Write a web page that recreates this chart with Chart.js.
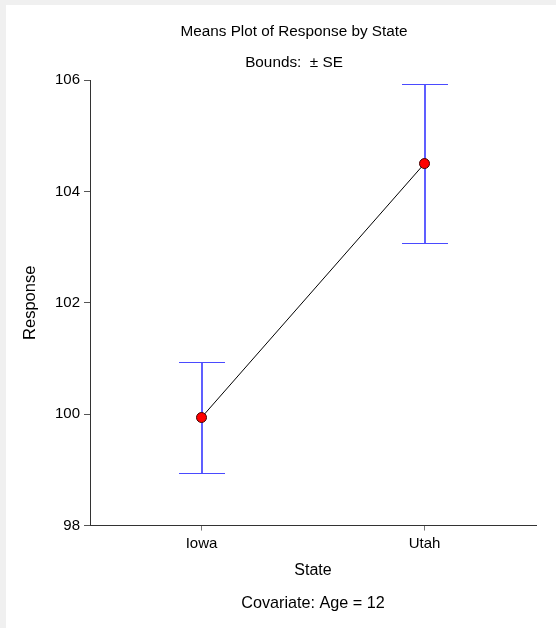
<!DOCTYPE html>
<html>
<head>
<meta charset="utf-8">
<script src="https://cdn.jsdelivr.net/npm/chart.js@4"></script>
<style>
  html, body { margin: 0; padding: 0; background: #f0f0f0; width: 556px; height: 628px; overflow: hidden; }
  #wrap { position: absolute; left: 6px; top: 5px; width: 550px; height: 623px; background: #ffffff; }
  canvas { display: block; }
</style>
</head>
<body>
<div id="wrap"><canvas id="c" width="550" height="623"></canvas></div>
<script>
// ---- data ----
const states = ['Iowa', 'Utah'];
const means = [99.94, 104.50];
const se = [0.99, 1.42];
const yTicks = [98, 100, 102, 104, 106];
const titleText = 'Means Plot of Response by State';
const subtitleText = 'Bounds:  \u00B1 SE';
const xTitle = 'State';
const yTitle = 'Response';
const footText = 'Covariate: Age = 12';

const FONT = '"Liberation Sans", Arial, sans-serif';

const errorBars = {
  id: 'errorBars',
  beforeDatasetsDraw(chart) {
    const ctx = chart.ctx;
    const xs = chart.scales.x, ys = chart.scales.y;
    ctx.save();
    ctx.lineWidth = 1;
    for (let i = 0; i < states.length; i++) {
      const xc = Math.round(xs.getPixelForValue(i));
      const yTop = Math.round(ys.getPixelForValue(means[i] + se[i])) + 0.5;
      const yBot = Math.round(ys.getPixelForValue(means[i] - se[i])) + 0.5;
      const hw = 23;
      // stem
      ctx.strokeStyle = '#1a1aff';
      ctx.lineWidth = 1.4;
      ctx.beginPath();
      ctx.moveTo(xc, yTop); ctx.lineTo(xc, yBot);
      ctx.stroke();
      // caps
      ctx.strokeStyle = '#4a4aff';
      ctx.lineWidth = 1;
      ctx.beginPath();
      ctx.moveTo(xc - hw, yTop); ctx.lineTo(xc + hw, yTop);
      ctx.moveTo(xc - hw, yBot); ctx.lineTo(xc + hw, yBot);
      ctx.stroke();
    }
    ctx.restore();
  }
};

new Chart(document.getElementById('c'), {
  type: 'line',
  data: {
    labels: states,
    datasets: [{
      data: means,
      borderColor: '#000000',
      borderWidth: 1,
      pointRadius: 5,
      pointHoverRadius: 5,
      pointBackgroundColor: '#ff0000',
      pointBorderColor: '#400000',
      pointBorderWidth: 1,
      tension: 0,
      clip: false
    }]
  },
  options: {
    responsive: false,
    animation: false,
    devicePixelRatio: 1,
    layout: { padding: { left: 46, right: 20, top: 0, bottom: 0 } },
    plugins: {
      legend: { display: false },
      tooltip: { enabled: false },
      title: {
        display: true,
        text: [titleText, subtitleText],
        color: '#000000',
        font: { family: FONT, size: 15.3, weight: 'normal', lineHeight: 31 / 15.3 },
        padding: { top: 11, bottom: 2 }
      },
      subtitle: {
        display: true,
        position: 'bottom',
        fullSize: false,
        text: footText,
        color: '#000000',
        font: { family: FONT, size: 16.2, weight: 'normal', lineHeight: 1.2 },
        padding: { top: 0, bottom: 15 }
      }
    },
    scales: {
      x: {
        type: 'category',
        offset: true,
        grid: { drawOnChartArea: false, drawTicks: true, tickLength: 5, color: '#777777' },
        border: { display: true, color: '#333333', width: 1 },
        ticks: { color: '#000000', font: { family: FONT, size: 15 }, padding: 4 },
        title: { display: true, text: xTitle, color: '#000000', font: { family: FONT, size: 16 }, padding: { top: 0, bottom: 13 } },
        afterFit(s) { s.height = 68; }
      },
      y: {
        type: 'linear',
        min: 98,
        max: 106,
        afterBuildTicks(s) { s.ticks = yTicks.map(v => ({ value: v })); },
        grid: { drawOnChartArea: false, drawTicks: true, tickLength: 6, color: '#555555' },
        border: { display: true, color: '#333333', width: 1 },
        ticks: { color: '#000000', font: { family: FONT, size: 15 }, padding: 4 },
        title: { display: true, text: yTitle, color: '#000000', font: { family: FONT, size: 16.5 }, padding: { top: -31, bottom: 0 } },
        afterFit(s) { s.width = 38; }
      }
    }
  },
  plugins: [errorBars]
});
</script>
</body>
</html>
